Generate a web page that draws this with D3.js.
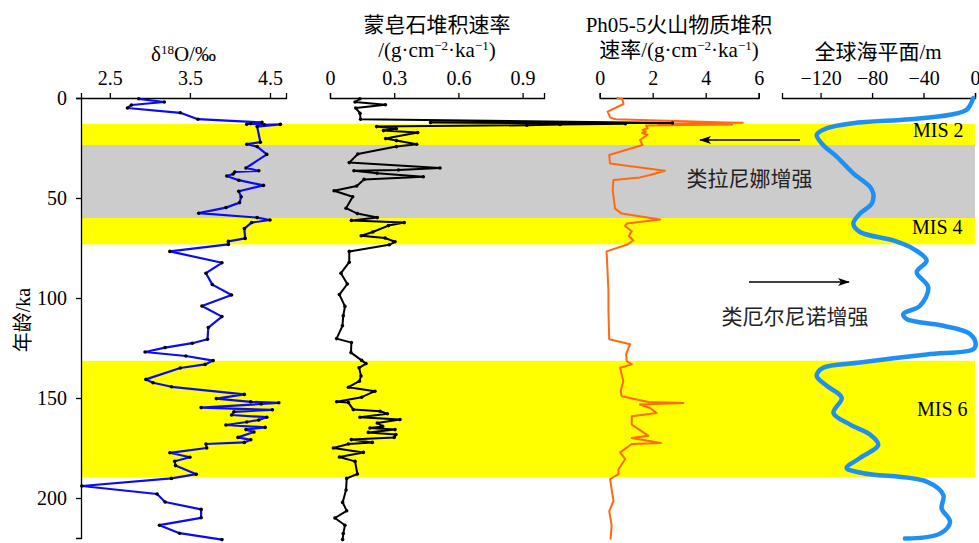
<!DOCTYPE html>
<html>
<head>
<meta charset="utf-8">
<script src="https://cdn.jsdelivr.net/npm/d3@7"></script>
<style>
  html, body { margin: 0; padding: 0; background: #fff; }
  svg text { font-family: "Liberation Serif", "Noto Sans CJK SC", serif; }
</style>
</head>
<body>
<svg id="chart" width="979" height="543"></svg>
<script>
// Age ticks (ka)
const ageTicks = [0, 50, 100, 150, 200];

// Climate bands: [top age, bottom age]
const yellowBands = [[12.9, 23.5], [60, 73.2], [131.4, 189.6]];
const grayBands = [[23.5, 60]];
const misLabels = [
  { text: "MIS 2", age: 16, x: 913 },
  { text: "MIS 4", age: 64.5, x: 912 },
  { text: "MIS 6", age: 155.5, x: 917 }
];

// δ18O record: [age ka, δ18O ‰]
const d18O = [
  [0.4, 2.86], [2.0, 3.18], [3.5, 2.77], [5.0, 2.72], [7.4, 3.38], [10.6, 3.60],
  [12.2, 4.40], [13.1, 4.21], [12.8, 4.26], [13.4, 4.43], [13.2, 4.63], [14.3, 4.34],
  [22.1, 4.38], [23.1, 4.21], [24.3, 4.34], [28.2, 4.46], [35.0, 4.20], [36.4, 4.36],
  [37.0, 4.06], [38.0, 4.04], [39.0, 3.96], [41.1, 4.11], [43.7, 4.42], [46.6, 4.11],
  [49.4, 4.14], [52.3, 4.12], [54.8, 3.95], [57.6, 3.61], [59.8, 4.34], [61.0, 4.50],
  [62.3, 4.27], [65.3, 4.18], [70.2, 4.19], [71.7, 3.98], [73.2, 3.98], [76.7, 3.25],
  [82.4, 3.90], [87.6, 3.70], [93.3, 3.78], [98.5, 4.02], [104.0, 3.65], [109.3, 3.90],
  [114.8, 3.73], [120.6, 3.72], [122.6, 3.53], [124.8, 3.19], [127.0, 2.94], [129.0, 3.45],
  [131.3, 3.79], [133.2, 3.69], [135.0, 3.38], [140.7, 2.95], [142.4, 3.04], [144.4, 3.27],
  [148.2, 4.18], [150.3, 3.83], [151.9, 4.26], [152.4, 4.61], [153.0, 4.39], [154.8, 3.64],
  [155.9, 4.53], [156.9, 4.05], [158.5, 4.02], [159.6, 4.46], [161.0, 4.36], [162.0, 4.21],
  [163.5, 3.95], [164.7, 4.44], [165.8, 4.20], [167.0, 4.30], [169.7, 4.10], [170.9, 4.26],
  [172.2, 4.18], [173.0, 3.70], [175.0, 3.71], [177.4, 3.25], [179.6, 3.50], [181.6, 3.31],
  [183.8, 3.32], [188.1, 3.58], [190.2, 3.27], [194.0, 2.15], [198.0, 3.09], [202.0, 3.19],
  [205.7, 3.64], [209.9, 3.64], [213.6, 3.12], [217.6, 3.37], [220.8, 3.90]
];

// Smectite accumulation rate: [age ka, g·cm⁻²·ka⁻¹]
const smectite = [
  [0.4, 0.140], [2.0, 0.117], [3.4, 0.259], [5.0, 0.120], [7.6, 0.140], [10.6, 0.143],
  [12.5, 1.60], [12.3, 0.47], [12.9, 1.38], [13.2, 1.075], [13.6, 0.92], [14.3, 0.218],
  [15.4, 0.31], [16.3, 0.25], [17.3, 0.41], [20.3, 0.26], [21.3, 0.31], [23.1, 0.405],
  [24.3, 0.31], [28.0, 0.13], [32.3, 0.09], [35.0, 0.514], [36.0, 0.32], [36.4, 0.112],
  [37.6, 0.22], [39.4, 0.436], [40.7, 0.159], [44.0, 0.125], [46.4, 0.019], [49.4, 0.106],
  [55.1, 0.075], [57.8, 0.128], [59.8, 0.221], [61.2, 0.100], [62.3, 0.347], [63.8, 0.273],
  [67.0, 0.200], [68.9, 0.146], [70.0, 0.257], [71.9, 0.304], [73.4, 0.277], [76.7, 0.090],
  [82.1, 0.090], [87.6, 0.051], [93.0, 0.081], [98.3, 0.044], [104.2, 0.070], [108.9, 0.062],
  [113.9, 0.058], [120.3, 0.031], [122.3, 0.100], [127.3, 0.098], [131.2, 0.148], [132.8, 0.168],
  [134.9, 0.136], [139.0, 0.145], [141.6, 0.137], [144.6, 0.086], [146.6, 0.210], [149.6, 0.148],
  [151.9, 0.031], [152.3, 0.086], [155.8, 0.109], [156.6, 0.234], [157.9, 0.268], [159.6, 0.140],
  [160.8, 0.327], [162.5, 0.221], [164.2, 0.246], [165.0, 0.187], [165.8, 0.304], [167.2, 0.179],
  [168.3, 0.308], [169.7, 0.300], [170.8, 0.100], [172.2, 0.198], [173.0, 0.086], [175.0, 0.016],
  [177.2, 0.156], [179.5, 0.044], [181.7, 0.117], [188.0, 0.128], [190.2, 0.078], [196.0, 0.075],
  [202.2, 0.059], [206.4, 0.078], [210.0, 0.023], [213.6, 0.070], [217.8, 0.062], [220.8, 0.059]
];

// Ph05-5 volcanic material accumulation rate: [age ka, g·cm⁻²·ka⁻¹]
const volcanic = [
  [0, 0.64], [0.5, 0.85], [3.0, 0.90], [6.8, 0.30], [9.8, 0.40], [10.6, 0.60],
  [12.2, 4.80], [12.4, 5.40], [12.8, 2.20], [13.2, 5.00], [13.8, 1.75], [15.1, 1.81],
  [16.0, 1.62], [16.8, 1.75], [17.5, 1.60], [18.4, 1.80], [21.0, 1.52], [23.5, 1.62],
  [28.5, 0.36], [32.7, 0.39], [36.4, 2.46], [38.5, 1.90], [39.7, 1.52], [41.0, 0.52],
  [46.0, 0.49], [55.3, 0.58], [57.8, 0.83], [60.8, 2.28], [62.8, 1.02], [64.0, 0.95],
  [66.5, 1.21], [69.0, 1.10], [71.2, 1.27], [73.4, 1.02], [76.7, 0.26], [96.3, 0.33],
  [106.4, 0.33], [120.6, 0.36], [123.1, 1.15], [128.0, 1.00], [131.5, 1.02], [133.2, 1.21],
  [134.9, 0.77], [141.6, 0.89], [146.6, 0.79], [149.1, 0.83], [152.0, 1.84], [152.5, 3.16],
  [153.3, 1.52], [155.0, 1.90], [157.5, 2.15], [159.1, 1.21], [163.3, 1.21], [168.9, 1.84],
  [170.0, 1.21], [172.5, 2.31], [173.0, 1.21], [177.2, 0.77], [180.6, 0.96], [185.6, 0.71],
  [188.1, 0.71], [190.6, 0.39], [201.5, 0.52], [206.6, 0.36], [213.6, 0.45], [220.8, 0.41]
];

// Global sea level: [age ka, m]
const seaLevel = [
  [0, -1.3], [5.9, -6.5], [8.4, -19.4], [10.6, -50.5], [12.6, -95], [15.1, -115],
  [18.4, -123], [23.5, -118], [29.3, -107.5], [37.7, -94.6], [44.4, -81.6], [47.8, -79],
  [52.8, -80.3], [57.8, -89.4], [62.8, -94.6], [67, -89.4], [71.2, -63.5], [75.4, -48],
  [81.3, -37.6], [87.1, -45.3], [94.7, -36.3], [103.9, -42.7], [108, -55.7], [110.6, -53],
  [113.9, -24.6], [118, -3.9], [123, 0.5], [125.6, -1.3], [128.2, -37.5], [132.3, -89.4],
  [134.9, -118], [139, -123], [144, -115], [149.9, -103.6], [157.5, -110], [163.3, -97],
  [168.3, -81.6], [173.4, -75.2], [180, -89.4], [185, -99.7], [187.6, -86.8], [191.8, -37.6],
  [198.5, -24.6], [205.2, -25.9], [211.9, -19.4], [217.8, -27.2], [220.3, -54.4]
];

// Top-axis ticks per panel
const d18OTicks = [2.5, 3.5, 4.5];
const smectiteTicks = [0, 0.3, 0.6, 0.9];
const volcanicTicks = [0, 2, 4, 6];
const seaTicks = [-120, -80, -40, 0];

const svg = d3.select("#chart");
const axisY = 98;

const y = d3.scaleLinear().domain([0, 220]).range([98, 538]);
const xO = d3.scaleLinear().domain([2.14, 4.7]).range([81, 286]);
const xM = d3.scaleLinear().domain([0, 1]).range([330, 544]);
const xV = d3.scaleLinear().domain([0, 6]).range([599.7, 758.7]);
const xS = d3.scaleLinear().domain([-150, 0]).range([782, 975]);

// Background bands
const bandX0 = 82, bandX1 = 975;
svg.append("g").selectAll("rect.yb").data(yellowBands).join("rect")
  .attr("x", bandX0).attr("width", bandX1 - bandX0)
  .attr("y", d => y(d[0])).attr("height", d => y(d[1]) - y(d[0]))
  .attr("fill", "#ffff00");
svg.append("g").selectAll("rect.gb").data(grayBands).join("rect")
  .attr("x", bandX0).attr("width", bandX1 - bandX0)
  .attr("y", d => y(d[0])).attr("height", d => y(d[1]) - y(d[0]))
  .attr("fill", "#cccccc");

// Axes
function styleAxis(g) {
  g.attr("font-family", null).attr("font-size", null);
  g.selectAll("path.domain").attr("stroke", "#000").attr("stroke-width", 1.3);
  g.selectAll(".tick line").attr("stroke", "#000").attr("stroke-width", 1.3);
  g.selectAll(".tick text").attr("font-size", 20).attr("fill", "#000")
    .style("font-family", "'Liberation Serif', serif");
}
function topAxis(scale, ticks, fmt) {
  const a = d3.axisTop(scale).tickValues(ticks).tickSize(5).tickSizeOuter(5).tickPadding(8);
  if (fmt) a.tickFormat(fmt);
  svg.append("g").attr("transform", `translate(0,${axisY})`).call(a).call(styleAxis);
}
topAxis(xO, d18OTicks, d3.format(".1f"));
topAxis(xM, smectiteTicks, d => d === 0 ? "0" : d3.format(".1f")(d));
topAxis(xV, volcanicTicks, d3.format("d"));
topAxis(xS, seaTicks, d3.format("d"));

svg.append("g").attr("transform", "translate(81,0)")
  .call(d3.axisLeft(y).tickValues(ageTicks).tickSize(5).tickSizeOuter(5).tickPadding(9))
  .call(styleAxis);

// Axis titles
function title(x, yPos, parts, size) {
  const t = svg.append("text").attr("x", x).attr("y", yPos)
    .attr("text-anchor", "middle").attr("font-size", size).attr("fill", "#000");
  parts.forEach(p => {
    const s = t.append("tspan").text(p.t);
    if (p.sup) s.attr("font-size", size * 0.62).attr("baseline-shift", "super");
  });
  return t;
}
const F = 21;
title(183.5, 61, [{ t: "δ" }, { t: "18", sup: true }, { t: "O/‰" }], F);
title(437, 32, [{ t: "蒙皂石堆积速率" }], F);
title(437, 57, [{ t: "/(g·cm" }, { t: "−2", sup: true }, { t: "·ka" }, { t: "−1", sup: true }, { t: ")" }], F);
title(679, 32, [{ t: "Ph05-5火山物质堆积" }], F);
title(679, 57, [{ t: "速率/(g·cm" }, { t: "−2", sup: true }, { t: "·ka" }, { t: "−1", sup: true }, { t: ")" }], F);
title(878, 59, [{ t: "全球海平面/m" }], F);

svg.append("text")
  .attr("transform", "translate(23,320) rotate(-90)")
  .attr("text-anchor", "middle").attr("dy", "0.35em")
  .attr("font-size", 20).attr("fill", "#000")
  .text("年龄/ka");

// Series lines
const lineOf = xs => d3.line().x(d => xs(d[1])).y(d => y(d[0]));

svg.append("path").datum(d18O)
  .attr("d", lineOf(xO)).attr("fill", "none")
  .attr("stroke", "#0a0af5").attr("stroke-width", 2.2).attr("stroke-linejoin", "round");
svg.append("g").selectAll("circle").data(d18O).join("circle")
  .attr("cx", d => xO(d[1])).attr("cy", d => y(d[0])).attr("r", 1.8).attr("fill", "#000");

svg.append("path").datum(volcanic)
  .attr("d", lineOf(xV)).attr("fill", "none")
  .attr("stroke", "#ff6a10").attr("stroke-width", 2).attr("stroke-linejoin", "round");

svg.append("path").datum(smectite)
  .attr("d", lineOf(xM)).attr("fill", "none")
  .attr("stroke", "#000").attr("stroke-width", 2).attr("stroke-linejoin", "round");
svg.append("g").selectAll("circle").data(smectite).join("circle")
  .attr("cx", d => xM(d[1])).attr("cy", d => y(d[0])).attr("r", 1.8).attr("fill", "#000");

svg.append("path").datum(seaLevel)
  .attr("d", lineOf(xS).curve(d3.curveCatmullRom.alpha(0.5))).attr("fill", "none")
  .attr("stroke", "#1f8ff2").attr("stroke-width", 4.5).attr("stroke-linecap", "round");

// Band labels
svg.append("g").selectAll("text").data(misLabels).join("text")
  .attr("x", d => d.x).attr("y", d => y(d.age)).attr("dy", "0.35em")
  .attr("font-size", 20).attr("fill", "#000")
  .style("font-family", "'Liberation Serif', serif")
  .text(d => d.text);

svg.append("text").attr("x", 749.5).attr("y", 186)
  .attr("text-anchor", "middle").attr("font-size", 21).attr("fill", "#222")
  .text("类拉尼娜增强");
svg.append("text").attr("x", 795).attr("y", 324)
  .attr("text-anchor", "middle").attr("font-size", 21).attr("fill", "#222")
  .text("类厄尔尼诺增强");

// Arrows
const defs = svg.append("defs");
defs.append("marker").attr("id", "arr")
  .attr("viewBox", "0 -5 12 10").attr("refX", 11).attr("refY", 0)
  .attr("markerWidth", 12).attr("markerHeight", 10).attr("markerUnits", "userSpaceOnUse")
  .attr("orient", "auto")
  .append("path").attr("d", "M0,-4L12,0L0,4L3,0Z").attr("fill", "#000");

svg.append("line").attr("x1", 800).attr("y1", 140).attr("x2", 700).attr("y2", 140)
  .attr("stroke", "#000").attr("stroke-width", 1.5).attr("marker-end", "url(#arr)");
svg.append("line").attr("x1", 749).attr("y1", 282).attr("x2", 849).attr("y2", 282)
  .attr("stroke", "#000").attr("stroke-width", 1.5).attr("marker-end", "url(#arr)");
</script>
</body>
</html>
